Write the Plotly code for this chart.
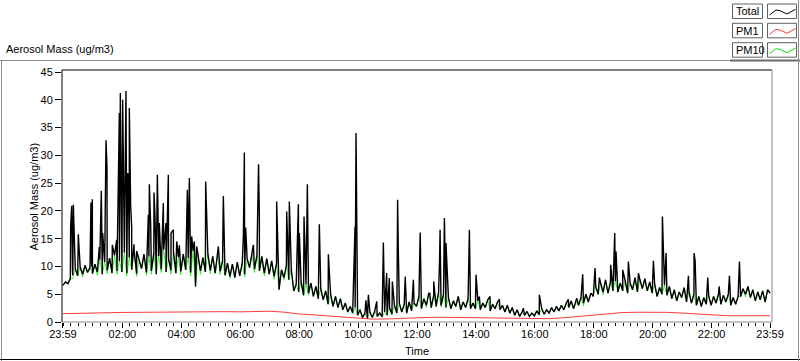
import plotly.graph_objects as go
import pandas as pd

START = pd.Timestamp("2011-06-14 23:59")
STEP_MIN = 5  # base grid step (minutes)

# Total aerosol mass, base band on a 5-minute grid starting 23:59
total_base = [
    6.6, 7.2, 6.9, 7.8, 8.4, 9.6, 8.3, 9.9, 8.6, 10.2, 8.9, 9.8,
    8.7, 10.4, 9.0, 11.2, 8.6, 10.8, 9.3, 11.5, 8.8, 12.0, 9.2, 11.0,
    9.0, 12.5, 8.8, 11.6, 9.4, 12.8, 8.7, 11.2, 9.6, 12.2, 8.9, 11.8,
    9.2, 12.4, 8.6, 11.9, 9.5, 13.0, 9.0, 11.4, 9.3, 12.6, 8.8, 11.7,
    9.1, 12.2, 9.4, 11.5, 8.9, 12.8, 6.4, 12.0, 9.2, 11.6, 9.0, 12.3,
    9.3, 11.8, 8.8, 12.1, 9.1, 11.0, 8.4, 10.6, 8.2, 10.4, 8.0, 10.8,
    8.3, 10.6, 8.6, 11.4, 9.8, 12.2, 9.5, 12.0, 9.2, 11.8, 8.8, 11.4,
    8.6, 11.0, 8.2, 10.6, 5.8, 9.4, 8.0, 10.2, 7.6, 9.4, 5.6, 6.8,
    5.4, 7.2, 4.8, 6.8, 5.2, 7.0, 4.6, 6.4, 4.2, 6.0, 4.0, 5.6,
    3.2, 5.0, 2.8, 4.6, 2.6, 4.2, 2.2, 3.4, 1.8, 2.8, 1.6, 2.6,
    1.2, 2.2, 0.8, 1.6, 0.6, 1.8, 0.8, 2.0, 1.0, 1.6, 0.9, 1.8,
    1.2, 2.6, 1.4, 3.0, 1.6, 3.4, 1.8, 3.2, 1.6, 3.6, 2.0, 3.4,
    2.8, 4.6, 2.4, 4.2, 3.0, 5.2, 2.6, 4.8, 2.8, 5.4, 3.0, 5.0,
    2.6, 4.4, 2.4, 3.8, 2.8, 4.6, 2.2, 3.6, 2.6, 4.2, 2.4, 3.4,
    2.4, 3.8, 2.2, 3.4, 2.6, 4.0, 2.0, 3.2, 2.4, 3.6, 2.2, 3.0,
    1.8, 3.0, 1.6, 2.6, 1.2, 2.2, 1.0, 1.8, 1.2, 1.9, 1.0, 1.6,
    1.1, 2.0, 1.3, 2.4, 1.4, 2.2, 1.6, 2.6, 1.8, 2.8, 2.0, 3.0,
    2.2, 3.4, 2.6, 3.8, 2.4, 3.6, 3.0, 4.4, 3.4, 5.0, 3.6, 5.2,
    4.6, 6.4, 5.0, 7.0, 5.4, 7.6, 5.2, 7.2, 5.6, 7.4, 5.4, 7.0,
    5.6, 7.4, 5.2, 7.0, 5.8, 8.0, 5.4, 7.6, 6.0, 7.8, 5.6, 7.2,
    5.2, 6.8, 4.6, 6.2, 5.0, 6.6, 4.8, 6.4, 4.2, 5.8, 3.8, 5.4,
    4.4, 6.2, 3.6, 5.4, 3.4, 5.0, 3.0, 4.6, 2.8, 4.4, 3.2, 4.8,
    3.0, 4.6, 3.4, 5.0, 3.2, 4.8, 3.6, 5.0, 3.0, 4.4, 3.2, 4.6,
    4.6, 6.0, 5.0, 6.4, 4.4, 5.8, 3.8, 5.4, 4.0, 5.6, 3.6, 5.8,
    5.2,
]

# Total: short spikes read between grid points (minutes after 23:59, value)
spike_minutes = [
    15.6, 17.7, 19.5, 21.1, 31.2, 57.0, 58.4, 59.8, 74.0, 78.1, 80.8, 87.6, 89.6,
    100.5, 109.3, 114.8, 116.8, 118.2, 121.6, 123.6, 128.3, 131.7, 133.1, 135.1,
    137.8, 139.9, 144.6, 150.1, 173.8, 175.9, 178.6, 185.4, 187.4, 192.2, 196.2,
    201.0, 204.4, 209.8, 214.6, 220.0, 224.8, 231.6, 237.0, 253.3, 257.4, 262.1,
    267.5, 272.3, 290.6, 294.7, 316.4, 326.6, 367.4, 369.4, 372.1, 387.7, 398.3,
    399.9, 435.2, 438.6, 455.6, 461.0, 479.4, 481.4, 490.9, 497.7, 522.1, 540.5,
    594.8, 596.8, 617.0, 622.0, 639.0, 652.5, 659.3, 664.7, 670.8, 681.5, 683.0,
    697.0, 713.6, 726.0, 727.5, 747.0, 755.0, 767.0, 768.0, 776.8, 780.0, 827.7,
    841.2, 848.0, 869.8, 888.8, 937.6, 970.2, 1029.3, 1046.3, 1058.5, 1083.6,
    1092.5, 1115.5, 1123.7, 1126.4, 1140.0, 1151.5, 1172.0, 1202.5, 1220.8,
    1228.3, 1273.8, 1285.3, 1287.4, 1313.2, 1336.3, 1357.3, 1377.7,
]
spike_values = [
    17.2, 20.9, 9.0, 21.1, 15.8, 21.5, 10.0, 22.1, 13.5, 23.6, 16.0, 32.7, 28.0,
    13.9, 14.8, 37.6, 41.2, 24.0, 40.0, 22.0, 41.6, 26.8, 25.9, 38.5,
    21.0, 17.0, 14.0, 12.8, 19.3, 24.8, 17.5, 23.3, 19.0, 26.5, 17.8,
    13.6, 21.4, 17.8, 26.5, 16.0, 16.6, 14.5, 13.8, 23.8, 25.9, 15.4,
    14.5, 13.6, 25.3, 14.8, 13.6, 22.7, 15.4, 30.5, 17.0, 13.9, 28.4,
    19.3, 21.7, 13.0, 19.9, 21.7, 21.2, 16.0, 19.0, 24.8, 17.6, 12.2,
    17.2, 34.0, 3.9, 4.9, 3.7, 14.3, 8.8, 7.9, 7.3, 22.0, 12.7,
    8.2, 7.6, 9.5, 16.1, 5.2, 7.3, 11.2, 16.6, 18.7, 14.2, 16.6,
    8.5, 4.6, 4.6, 4.1, 2.5, 4.9, 4.1, 4.3, 8.6, 9.7,
    8.0, 10.3, 16.0, 12.7, 9.4, 10.9, 8.8, 11.0, 19.0,
    12.4, 8.3, 12.4, 11.0, 8.0, 6.4, 8.3, 10.9,
]

# PM10 on the same 5-minute grid
pm10_base = [
    6.6, 7.2, 6.9, 7.8, 7.8, 9.6, 8.3, 9.9, 8.1, 10.2, 8.9, 9.8,
    8.7, 10.4, 8.4, 11.2, 8.6, 10.8, 8.7, 11.5, 8.8, 12.0, 8.6, 11.0,
    9.0, 12.5, 8.3, 11.6, 9.4, 12.8, 8.2, 11.2, 9.6, 12.2, 8.4, 11.8,
    8.6, 12.4, 8.6, 11.9, 8.9, 13.0, 9.0, 11.4, 8.6, 12.6, 8.8, 11.7,
    8.5, 12.2, 9.4, 11.5, 8.3, 12.8, 6.4, 12.0, 8.6, 11.6, 9.0, 12.3,
    8.7, 11.8, 8.8, 12.1, 8.5, 11.0, 8.4, 10.6, 7.8, 10.4, 8.0, 10.8,
    8.3, 10.6, 8.1, 11.4, 9.8, 12.2, 8.9, 12.0, 9.2, 11.8, 8.3, 11.4,
    8.6, 11.0, 7.7, 10.6, 5.8, 9.4, 7.5, 10.2, 7.6, 9.4, 5.6, 6.8,
    5.4, 7.2, 4.8, 6.8, 4.8, 7.0, 4.6, 6.4, 4.2, 6.0, 4.0, 5.6,
    3.2, 5.0, 2.8, 4.6, 2.6, 4.2, 2.2, 3.4, 1.8, 2.8, 1.6, 2.6,
    1.2, 2.2, 0.8, 1.6, 0.6, 1.8, 0.8, 2.0, 1.0, 1.6, 0.9, 1.8,
    1.2, 2.6, 1.4, 3.0, 1.6, 3.4, 1.8, 3.2, 1.6, 3.6, 2.0, 3.4,
    2.8, 4.6, 2.4, 4.2, 2.6, 5.2, 2.6, 4.8, 2.8, 5.4, 2.7, 5.0,
    2.6, 4.4, 2.4, 3.8, 2.8, 4.6, 2.2, 3.6, 2.6, 4.2, 2.4, 3.4,
    2.4, 3.8, 2.2, 3.4, 2.6, 4.0, 2.0, 3.2, 2.4, 3.6, 2.2, 3.0,
    1.8, 3.0, 1.6, 2.6, 1.2, 2.2, 1.0, 1.8, 1.2, 1.9, 1.0, 1.6,
    1.1, 2.0, 1.3, 2.4, 1.4, 2.2, 1.6, 2.6, 1.8, 2.8, 2.0, 3.0,
    2.2, 3.4, 2.6, 3.8, 2.4, 3.6, 3.0, 4.4, 2.9, 5.0, 3.6, 5.2,
    4.6, 6.4, 5.0, 7.0, 4.9, 7.6, 5.2, 7.2, 5.6, 7.4, 5.4, 7.0,
    5.6, 7.4, 5.2, 7.0, 5.8, 8.0, 5.4, 7.6, 6.0, 7.8, 5.6, 7.2,
    5.2, 6.8, 4.6, 6.2, 5.0, 6.6, 4.8, 6.4, 4.2, 5.8, 3.8, 5.4,
    4.4, 6.2, 3.6, 5.4, 3.4, 5.0, 3.0, 4.6, 2.8, 4.4, 3.2, 4.8,
    3.0, 4.6, 3.4, 5.0, 3.2, 4.8, 3.6, 5.0, 3.0, 4.4, 3.2, 4.6,
    4.6, 6.0, 4.5, 6.4, 4.4, 5.8, 3.8, 5.4, 4.0, 5.6, 3.6, 5.8,
    5.2,
]

# PM1 on a 30-minute grid
PM1_STEP_MIN = 30
pm1_values = [
    1.50, 1.58, 1.62, 1.66, 1.72, 1.74, 1.76, 1.80, 1.84, 1.90, 1.92, 1.86,
    1.82, 1.88, 1.94, 1.78, 1.45, 1.28, 1.10, 0.92, 0.62, 0.52, 0.55, 0.68,
    0.80, 0.84, 0.84, 0.80, 0.74, 0.68, 0.64, 0.58, 0.52, 0.60, 0.76, 1.02,
    1.30, 1.55, 1.70, 1.76, 1.76, 1.74, 1.62, 1.42, 1.22, 1.14, 1.12, 1.12,
    1.14,
]

tick_labels = ["23:59", "02:00", "04:00", "06:00", "08:00", "10:00", "12:00",
               "14:00", "16:00", "18:00", "20:00", "22:00", "23:59"]
y_ticks = [0, 5, 10, 15, 20, 25, 30, 35, 40, 45]

# ---- build traces ----
def t(minutes):
    return START + pd.Timedelta(minutes=minutes)

pts = [(STEP_MIN * i, v) for i, v in enumerate(total_base)]
pts += list(zip(spike_minutes, spike_values))
pts.sort(key=lambda p: p[0])
total_x = [t(m) for m, _ in pts]
total_y = [v for _, v in pts]

pm10_x = [t(STEP_MIN * i) for i in range(len(pm10_base))]
pm1_x = [t(PM1_STEP_MIN * i) for i in range(len(pm1_values))]

FONT = "Liberation Sans, Arial, sans-serif"
GREEN = "#00e600"
RED = "#ff3b3b"

fig = go.Figure()
fig.add_trace(go.Scatter(x=pm10_x, y=pm10_base, mode="lines", name="PM10",
                         line=dict(color=GREEN, width=0.7)))
fig.add_trace(go.Scatter(x=total_x, y=total_y, mode="lines", name="Total",
                         line=dict(color="black", width=1.4)))
fig.add_trace(go.Scatter(x=pm1_x, y=pm1_values, mode="lines", name="PM1",
                         line=dict(color=RED, width=1)))

L, R, T, B = 62, 772, 70, 322
W, H = 800, 361


def X(px):
    return (px - L) / (R - L)


def Y(py):
    return (B - py) / (B - T)


tickvals = [START] + [pd.Timestamp("2011-06-15 %02d:00" % h) for h in range(2, 24, 2)] + [t(1440)]

shapes = []
# plot frame
shapes.append(dict(type="line", xref="paper", yref="paper", x0=0, x1=0, y0=0, y1=1,
                   line=dict(color="black", width=1)))
shapes.append(dict(type="line", xref="paper", yref="paper", x0=0, x1=1, y0=1, y1=1,
                   line=dict(color="black", width=1)))
shapes.append(dict(type="line", xref="paper", yref="paper", x0=1, x1=1, y0=0, y1=1,
                   line=dict(color="#8a8a8a", width=1)))
shapes.append(dict(type="line", xref="paper", yref="paper", x0=0, x1=1, y0=0, y1=0,
                   line=dict(color="#8a8a8a", width=1)))
# outer panel frame
shapes.append(dict(type="line", xref="paper", yref="paper", x0=X(0), x1=X(730), y0=Y(60.5), y1=Y(60.5),
                   line=dict(color="#8c8c8c", width=1)))
shapes.append(dict(type="line", xref="paper", yref="paper", x0=X(730), x1=X(800), y0=Y(60.5), y1=Y(60.5),
                   line=dict(color="#6a6a6a", width=2)))
shapes.append(dict(type="line", xref="paper", yref="paper", x0=X(1.5), x1=X(1.5), y0=Y(60.5), y1=Y(361),
                   line=dict(color="#8c8c8c", width=1)))
shapes.append(dict(type="line", xref="paper", yref="paper", x0=X(0), x1=X(800), y0=Y(359.5), y1=Y(359.5),
                   line=dict(color="black", width=1)))
shapes.append(dict(type="line", xref="paper", yref="paper", x0=X(798.5), x1=X(798.5), y0=Y(0), y1=Y(361),
                   line=dict(color="#8c8c8c", width=1)))

annotations = []
legend_rows = [("Total", "black", 4), ("PM1", RED, 23.3), ("PM10", GREEN, 42.7)]
for name, col, top in legend_rows:
    bot = top + 14.5
    shapes.append(dict(type="rect", xref="paper", yref="paper", x0=X(732.5), x1=X(762.5),
                       y0=Y(bot), y1=Y(top), line=dict(color="#606060", width=1),
                       fillcolor="white"))
    shapes.append(dict(type="rect", xref="paper", yref="paper", x0=X(767.5), x1=X(796.5),
                       y0=Y(bot), y1=Y(top), line=dict(color="#606060", width=1),
                       fillcolor="white"))
    zz = [(769.5, top + 11), (776, top + 6), (780, top + 6.7), (787, top + 10), (795.5, top + 5.3)]
    path = "M " + " L ".join("%.5f,%.5f" % (X(a), Y(b)) for a, b in zz)
    shapes.append(dict(type="path", xref="paper", yref="paper", path=path,
                       line=dict(color=col, width=1)))
    annotations.append(dict(xref="paper", yref="paper", x=X(733.5), y=Y(top + 7.5),
                            text=name, showarrow=False, xanchor="left", yanchor="middle",
                            font=dict(family=FONT, size=11, color="black")))

annotations.append(dict(xref="paper", yref="paper", x=X(4), y=Y(49), text="Aerosol Mass (ug/m3)",
                        showarrow=False, xanchor="left", yanchor="middle",
                        font=dict(family=FONT, size=11, color="black")))
annotations.append(dict(xref="paper", yref="paper", x=X(33), y=Y(196.5), text="Aerosol Mass (ug/m3)",
                        showarrow=False, xanchor="center", yanchor="middle", textangle=-90,
                        font=dict(family=FONT, size=11, color="black")))
annotations.append(dict(xref="paper", yref="paper", x=X(417), y=Y(351), text="Time",
                        showarrow=False, xanchor="center", yanchor="middle",
                        font=dict(family=FONT, size=11, color="black")))

fig.update_layout(
    width=W, height=H,
    margin=dict(l=L, r=W - R, t=T, b=H - B, pad=0),
    paper_bgcolor="white", plot_bgcolor="white",
    showlegend=False,
    font=dict(family=FONT, size=11, color="black"),
    shapes=shapes, annotations=annotations,
    xaxis=dict(
        type="date",
        range=[t(-2), t(1444)],
        tickmode="array", tickvals=tickvals, ticktext=tick_labels,
        ticks="outside", ticklen=5, tickwidth=1, tickcolor="black",
        ticklabelstandoff=-3,
        showgrid=False, zeroline=False, showline=False,
        tickfont=dict(family=FONT, size=11, color="black"),
        minor=dict(ticks="outside", ticklen=3, tickwidth=1, tickcolor="black",
                   dtick=15 * 60 * 1000, tick0="2011-06-15 00:00:00", showgrid=False),
    ),
    yaxis=dict(
        range=[0, 45.36],
        tickmode="array", tickvals=y_ticks,
        ticks="outside", ticklen=6, tickwidth=1, tickcolor="black",
        showgrid=False, zeroline=False, showline=False,
        tickfont=dict(family=FONT, size=11, color="black"),
    ),
)

fig.write_html("out.html", config={"displayModeBar": False},
               post_script="document.body.style.margin='0';document.body.style.overflow='hidden';")
